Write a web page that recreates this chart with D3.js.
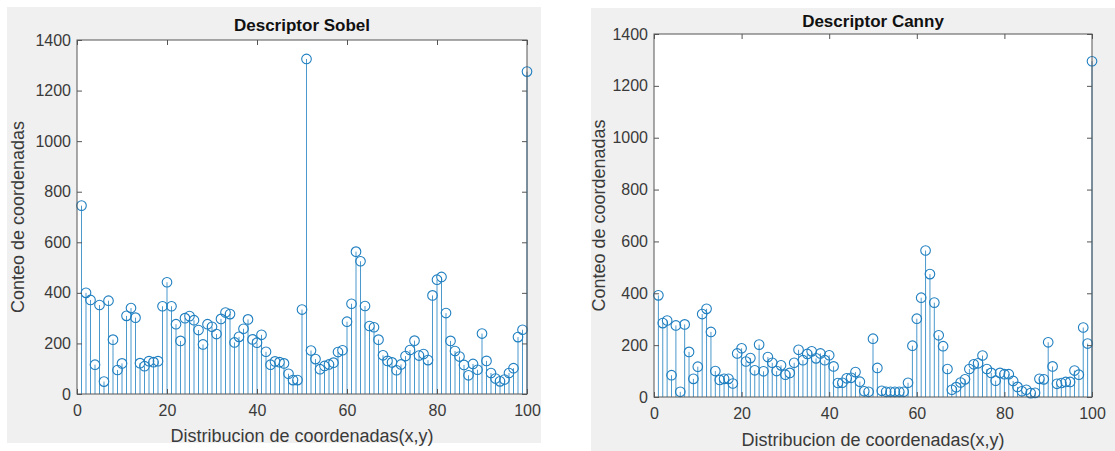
<!DOCTYPE html>
<html>
<head>
<meta charset="utf-8">
<script src="https://cdn.jsdelivr.net/npm/d3@7"></script>
<style>
  body { margin: 0; background: #fff; }
  svg text { font-family: "Liberation Sans", Arial, Helvetica, sans-serif; }
</style>
</head>
<body>
<div id="chart"></div>
<script>
// stem plots, two descriptors, counts per bin 1..100

var bins = d3.range(1, 101);
var xTicks = [0, 20, 40, 60, 80, 100];
var yTicks = [0, 200, 400, 600, 800, 1000, 1200, 1400];

var sobel = [745, 400, 372, 116, 352, 49, 369, 215, 95, 121,
             309, 340, 302, 122, 110, 130, 126, 130, 347, 442,
             347, 276, 210, 300, 308, 292, 253, 196, 276, 266,
             237, 297, 322, 316, 204, 226, 258, 295, 216, 203,
             234, 167, 116, 129, 126, 121, 80, 55, 55, 334,
             1325, 172, 138, 98, 111, 117, 124, 166, 173, 286,
             357, 563, 525, 348, 269, 264, 215, 153, 131, 125,
             94, 117, 150, 174, 211, 152, 158, 134, 390, 452,
             463, 320, 210, 170, 148, 115, 74, 119, 96, 239,
             131, 83, 61, 50, 57, 83, 102, 225, 254, 1275];

var canny = [392, 285, 295, 84, 276, 20, 280, 174, 70, 117,
             320, 340, 251, 100, 66, 70, 70, 52, 168, 188,
             137, 150, 103, 202, 99, 154, 132, 100, 122, 86,
             93, 132, 182, 142, 166, 176, 149, 168, 142, 161,
             118, 54, 55, 72, 74, 96, 59, 22, 20, 225,
             112, 24, 20, 20, 20, 20, 20, 55, 198, 302,
             383, 565, 474, 364, 238, 196, 108, 28, 38, 56,
             68, 108, 126, 130, 160, 108, 93, 63, 93, 88,
             88, 62, 39, 22, 28, 15, 16, 70, 68, 211,
             118, 51, 54, 58, 58, 102, 86, 268, 206, 1295];

var titles = ["Descriptor Sobel", "Descriptor Canny"];
var xLabel = "Distribucion de coordenadas(x,y)";
var yLabel = "Conteo de coordenadas";

var W = 1115, H = 451;
var blue = "#1f7fc0";
var ink = "#3a3a3a";

var svg = d3.select("#chart").append("svg")
  .attr("width", W)
  .attr("height", H);

// layout of the two figure windows
var panels = [
  {bg: [7, 7, 534, 436], x0: 77, x1: 527, y0: 394, y1: 40, titleY: 31, xLabY: 442, yLabX: 24, data: sobel, title: titles[0]},
  {bg: [591, 8, 524, 443], x0: 654, x1: 1092, y0: 397, y1: 34, titleY: 27, xLabY: 446, yLabX: 605, data: canny, title: titles[1]}
];

panels.forEach(function(p) {
  svg.append("rect")
    .attr("x", p.bg[0]).attr("y", p.bg[1])
    .attr("width", p.bg[2]).attr("height", p.bg[3])
    .attr("fill", "#f0f0f0");

  var x = d3.scaleLinear().domain([0, 100]).range([p.x0, p.x1]);
  var y = d3.scaleLinear().domain([0, 1400]).range([p.y0, p.y1]);

  svg.append("rect")
    .attr("x", p.x0).attr("y", p.y1)
    .attr("width", p.x1 - p.x0).attr("height", p.y0 - p.y1)
    .attr("fill", "#fff");

  var g = svg.append("g");

  // stems
  g.selectAll("line.stem")
    .data(bins)
    .enter().append("line")
    .attr("class", "stem")
    .attr("x1", function(d) { return x(d); })
    .attr("x2", function(d) { return x(d); })
    .attr("y1", y(0))
    .attr("y2", function(d, i) { return y(p.data[i]); })
    .attr("stroke", blue)
    .attr("stroke-width", 1)
    .attr("stroke-opacity", 0.8);

  // markers
  g.selectAll("circle.mark")
    .data(bins)
    .enter().append("circle")
    .attr("class", "mark")
    .attr("cx", function(d) { return x(d); })
    .attr("cy", function(d, i) { return y(p.data[i]); })
    .attr("r", 4.8)
    .attr("fill", "none")
    .attr("stroke", blue)
    .attr("stroke-width", 1.1);

  // axes, ticks pointing inward on all four sides
  var fmt = d3.format("d");
  var bottom = g.append("g")
    .attr("transform", "translate(0," + p.y0 + ")")
    .call(d3.axisBottom(x).tickValues(xTicks).tickFormat(fmt).tickSizeInner(-5).tickSizeOuter(0).tickPadding(11));
  var top = g.append("g")
    .attr("transform", "translate(0," + p.y1 + ")")
    .call(d3.axisTop(x).tickValues(xTicks).tickSizeInner(-5).tickSizeOuter(0).tickFormat(""));
  var left = g.append("g")
    .attr("transform", "translate(" + p.x0 + ",0)")
    .call(d3.axisLeft(y).tickValues(yTicks).tickFormat(fmt).tickSizeInner(-5).tickSizeOuter(0).tickPadding(6));
  var right = g.append("g")
    .attr("transform", "translate(" + p.x1 + ",0)")
    .call(d3.axisRight(y).tickValues(yTicks).tickSizeInner(-5).tickSizeOuter(0).tickFormat(""));

  [bottom, top, left, right].forEach(function(a) {
    a.select(".domain").remove();
    a.selectAll(".tick line").attr("stroke", "#555");
    a.selectAll(".tick text")
      .attr("fill", ink)
      .style("font-size", "16px");
  });

  svg.append("rect")
    .attr("x", p.x0).attr("y", p.y1)
    .attr("width", p.x1 - p.x0).attr("height", p.y0 - p.y1)
    .attr("fill", "none")
    .attr("stroke", "#555")
    .attr("stroke-width", 1);

  // title and axis labels
  svg.append("text")
    .attr("x", (p.x0 + p.x1) / 2)
    .attr("y", p.titleY)
    .attr("text-anchor", "middle")
    .attr("font-weight", "bold")
    .style("font-size", "17px")
    .attr("fill", "#111")
    .text(p.title);

  svg.append("text")
    .attr("x", (p.x0 + p.x1) / 2)
    .attr("y", p.xLabY)
    .attr("text-anchor", "middle")
    .style("font-size", "18px")
    .attr("fill", ink)
    .text(xLabel);

  svg.append("text")
    .attr("transform", "translate(" + p.yLabX + "," + ((p.y0 + p.y1) / 2) + ") rotate(-90)")
    .attr("text-anchor", "middle")
    .style("font-size", "18px")
    .attr("fill", ink)
    .text(yLabel);
});
</script>
</body>
</html>
